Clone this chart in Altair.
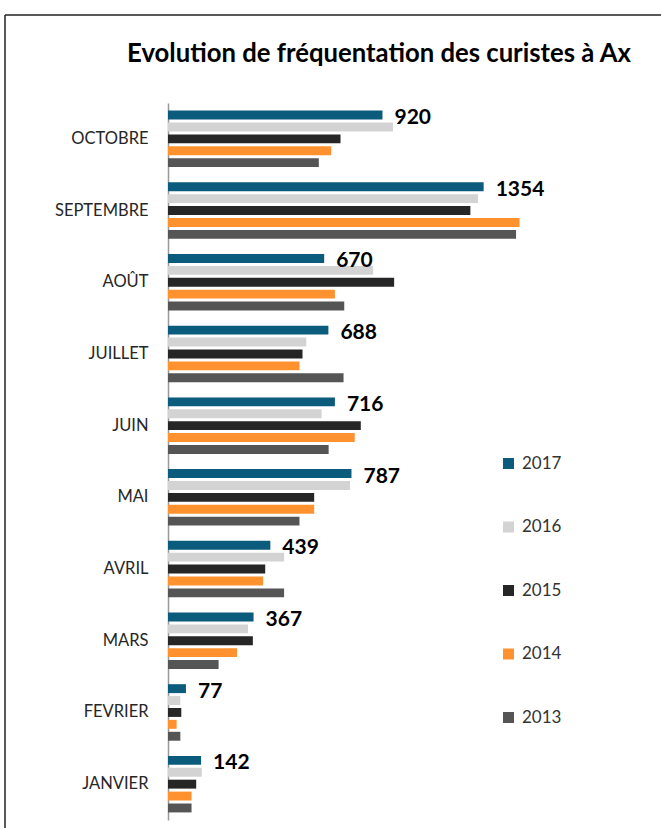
import altair as alt
import pandas as pd

title_text = "Evolution de fréquentation des curistes à Ax"
months = ["OCTOBRE", "SEPTEMBRE", "AOÛT", "JUILLET", "JUIN", "MAI", "AVRIL", "MARS", "FEVRIER", "JANVIER"]
years = ["2017", "2016", "2015", "2014", "2013"]
colors = ["#0B5B7C", "#D3D3D3", "#262626", "#FF922E", "#555555"]

v2017 = [920, 1354, 670, 688, 716, 787, 439, 367, 77, 142]
v2016 = [965, 1330, 880, 593, 659, 781, 498, 343, 53, 145]
v2015 = [740, 1297, 970, 577, 827, 627, 417, 364, 57, 121]
v2014 = [700, 1508, 716, 564, 801, 627, 408, 296, 37, 101]
v2013 = [647, 1493, 756, 753, 689, 564, 498, 217, 53, 101]

series = [v2017, v2016, v2015, v2014, v2013]
rows = []
for yr, vals in zip(years, series):
    for m, v in zip(months, vals):
        rows.append({"month": m, "year": yr, "value": v})
df = pd.DataFrame(rows)

base = alt.Chart(df)

bars = base.mark_bar().encode(
    x=alt.X("value:Q", scale=alt.Scale(domain=[0, 1600]), axis=None),
    y=alt.Y(
        "month:N",
        sort=months,
        scale=alt.Scale(paddingInner=0.17, paddingOuter=0.085),
        axis=alt.Axis(
            title=None, ticks=False, domainColor="#999999", domainWidth=1.5,
            labelFontSize=16.5, labelFont="Lato", labelColor="#262626", labelPadding=20,
        ),
    ),
    yOffset=alt.YOffset("year:N", sort=years,
                        scale=alt.Scale(paddingInner=0.25, paddingOuter=0.125)),
    color=alt.Color(
        "year:N", sort=years,
        scale=alt.Scale(domain=years, range=colors),
        legend=alt.Legend(
            title=None, orient="none", legendX=332, legendY=352,
            symbolType="square", symbolSize=121, symbolStrokeWidth=0,
            labelFont="Lato", labelFontSize=17, labelColor="#333333",
            rowPadding=45.5, labelOffset=5, padding=0,
        ),
    ),
)

labels = base.transform_filter(alt.datum.year == "2017").mark_text(
    align="left", baseline="middle", dx=12, dy=3, fontSize=21,
    fontWeight="bold", font="Lato", color="#000000",
).encode(
    x=alt.X("value:Q"),
    y=alt.Y("month:N", sort=months),
    yOffset=alt.YOffset("year:N", sort=years),
    text="value:Q",
)

one = pd.DataFrame({"t": [title_text]})
title_mark = alt.Chart(one).mark_text(
    align="center", baseline="alphabetic", font="Lato", fontSize=25.7,
    fontWeight="bold", color="#000000",
).encode(x=alt.value(211), y=alt.value(-41), text="t:N")

top_line = alt.Chart(one).mark_rule(color="#222222", strokeWidth=1.5).encode(
    x=alt.value(-163), x2=alt.value(493), y=alt.value(-88)
)
left_line = alt.Chart(one).mark_rule(color="#222222", strokeWidth=1.5).encode(
    x=alt.value(-163), y=alt.value(-88), y2=alt.value(725)
)

chart = alt.layer(top_line, left_line, title_mark, bars, labels).properties(
    width=373,
    height=717,
    autosize=alt.AutoSizeParams(type="none"),
    padding={"left": 168, "top": 103, "right": 120, "bottom": 8},
).configure_view(stroke=None)

chart.save("out.html", embed_options={"renderer": "svg", "actions": False})
